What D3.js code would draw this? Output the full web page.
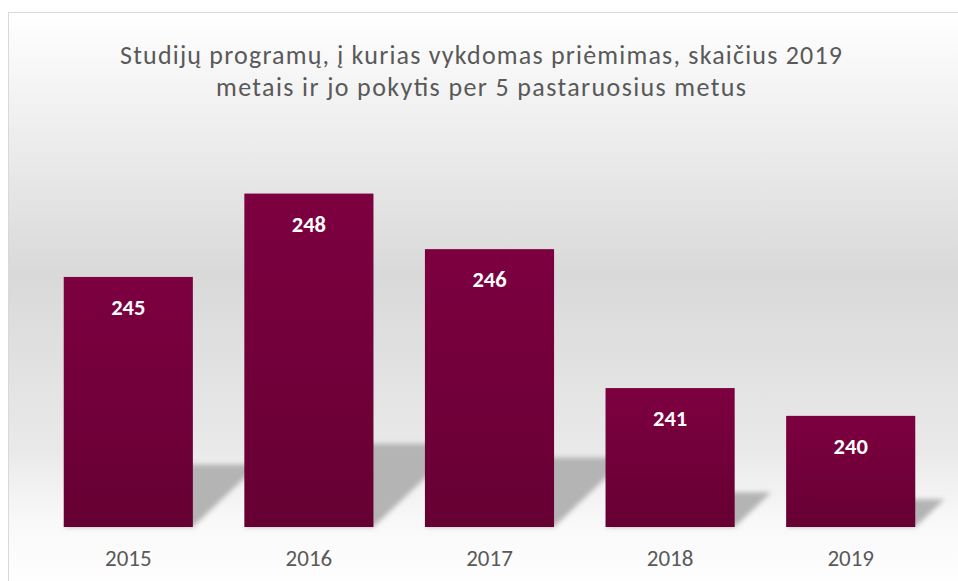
<!DOCTYPE html>
<html>
<head>
<meta charset="utf-8">
<script src="https://cdn.jsdelivr.net/npm/d3@7"></script>
<style>
  html, body { margin: 0; padding: 0; background: #fff; }
  svg { display: block; font-family: Carlito, Calibri, Lato, "Open Sans", sans-serif; }
</style>
</head>
<body>
<svg id="chart" width="958" height="581"></svg>
<script>
const years = ['2015', '2016', '2017', '2018', '2019']
const counts = [245, 248, 246, 241, 240]
const titleLines = [
    'Studijų programų, į kurias vykdomas priėmimas, skaičius 2019',
    'metais ir jo pokytis per 5 pastaruosius metus'
]
const titleWidths = [722, 530]

const data = years.map((y, i) => ({label: y, value: counts[i]}))

const svg = d3.select('#chart')
const W = 958, H = 581
const bottom = 527
const fontStack = 'Carlito, Calibri, Lato, "Open Sans", sans-serif'

const defs = svg.append('defs')

const bg = defs.append('linearGradient')
    .attr('id', 'bg').attr('x1', 0).attr('y1', 0).attr('x2', 0).attr('y2', 1)
bg.append('stop').attr('offset', '0%').attr('stop-color', '#ffffff')
bg.append('stop').attr('offset', '45%').attr('stop-color', '#d9d9d9')
bg.append('stop').attr('offset', '75%').attr('stop-color', '#e9e9e9')
bg.append('stop').attr('offset', '88%').attr('stop-color', '#f9f9f9')
bg.append('stop').attr('offset', '100%').attr('stop-color', '#ffffff')

const barGrad = defs.append('linearGradient')
    .attr('id', 'barGrad').attr('x1', 0).attr('y1', 0).attr('x2', 0).attr('y2', 1)
barGrad.append('stop').attr('offset', '0%').attr('stop-color', '#7d0040')
barGrad.append('stop').attr('offset', '100%').attr('stop-color', '#660033')

defs.append('filter').attr('id', 'blur')
    .attr('x', '-20%').attr('y', '-20%').attr('width', '140%').attr('height', '140%')
    .append('feGaussianBlur').attr('stdDeviation', 2.5)

// chart area with border
svg.append('rect')
    .attr('x', 8.5).attr('y', 12.5)
    .attr('width', W).attr('height', H)
    .attr('fill', 'url(#bg)')
    .attr('stroke', '#d9d9d9')

const x = d3.scaleBand()
    .domain(years)
    .range([38, 941])
    .paddingInner(0.285)
    .paddingOuter(0.1425)

const y = d3.scaleLinear()
    .domain([236, 250])
    .range([bottom, 138])

// floor shadows
svg.append('g')
    .attr('filter', 'url(#blur)')
    .selectAll('path')
    .data(data)
    .join('path')
    .attr('fill', '#b4b4b4')
    .attr('d', d => {
        const x0 = x(d.label), x1 = x0 + x.bandwidth()
        const h = bottom - y(d.value)
        const sh = h * 0.25
        const sk = sh * 1.05
        return `M${x0},${bottom} L${x0 + sk},${bottom - sh} L${x1 + sk},${bottom - sh} L${x1},${bottom} Z`
    })

// bars
svg.append('g')
    .selectAll('rect')
    .data(data)
    .join('rect')
    .attr('x', d => x(d.label))
    .attr('y', d => y(d.value))
    .attr('width', x.bandwidth())
    .attr('height', d => bottom - y(d.value))
    .attr('fill', 'url(#barGrad)')

// value labels
svg.append('g')
    .selectAll('text')
    .data(data)
    .join('text')
    .attr('x', d => x(d.label) + x.bandwidth() / 2)
    .attr('y', d => y(d.value) + 38)
    .attr('text-anchor', 'middle')
    .attr('fill', '#ffffff')
    .attr('font-weight', 'bold')
    .attr('font-size', 22.5)
    .text(d => d.value)

// x axis
const xAxis = svg.append('g')
    .attr('transform', `translate(0,${bottom})`)
    .call(d3.axisBottom(x).tickSize(0).tickPadding(23))
xAxis.select('.domain').remove()
xAxis.selectAll('text')
    .attr('fill', '#595959')
    .attr('font-size', 23)
    .style('font-family', fontStack)

// title
svg.append('g')
    .selectAll('text')
    .data(titleLines)
    .join('text')
    .attr('x', 481)
    .attr('y', (d, i) => 64 + i * 32)
    .attr('text-anchor', 'middle')
    .attr('fill', '#595959')
    .attr('font-size', 26)
    .attr('textLength', (d, i) => titleWidths[i])
    .attr('lengthAdjust', 'spacing')
    .text(d => d)
</script>
</body>
</html>
